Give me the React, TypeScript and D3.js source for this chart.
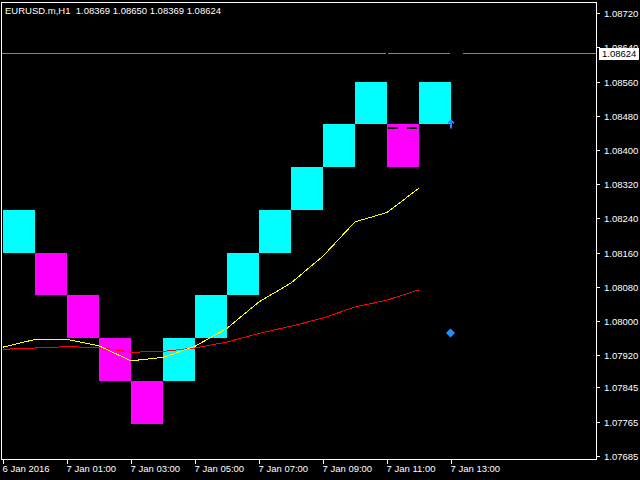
import React from "react";
import * as d3 from "d3";

const W = 640;
const H = 480;

const titleText = "EURUSD.m,H1  1.08369 1.08650 1.08369 1.08624";
const bidPrice = 1.08624;

// Renko bricks (hourly bars)
const brickOpen = [1.0816, 1.0816, 1.0806, 1.0796, 1.0786, 1.0786, 1.0796, 1.0806, 1.0816, 1.0826, 1.0836, 1.0846, 1.0846, 1.0846];
const brickClose = [1.0826, 1.0806, 1.0796, 1.0786, 1.0776, 1.0796, 1.0806, 1.0816, 1.0826, 1.0836, 1.0846, 1.0856, 1.0836, 1.0856];

// Moving averages
const maFast = [1.07939, 1.07957, 1.07957, 1.07942, 1.07907, 1.07915, 1.07941, 1.07983, 1.08045, 1.08089, 1.08152, 1.08232, 1.08254, 1.08311];
const maSlow = [1.07934, 1.07937, 1.0794, 1.07938, 1.07927, 1.07929, 1.07937, 1.07951, 1.07971, 1.07988, 1.08007, 1.08033, 1.08049, 1.08073];

// Signals
const arrowPrice = 1.0846;
const diamondPrice = 1.07972;
const signalBar = 14;

const yTickValues = [1.0872, 1.0864, 1.0856, 1.0848, 1.084, 1.0832, 1.0824, 1.0816, 1.0808, 1.08, 1.0792, 1.07845, 1.07765, 1.07685];
const yTickLabels = ["1.08720", "1.08640", "1.08560", "1.08480", "1.08400", "1.08320", "1.08240", "1.08160", "1.08080", "1.08000", "1.07920", "1.07845", "1.07765", "1.07685"];

const xTickHours = [0, 2, 4, 6, 8, 10, 12, 14];
const xTickLabels = ["6 Jan 2016", "7 Jan 01:00", "7 Jan 03:00", "7 Jan 05:00", "7 Jan 07:00", "7 Jan 09:00", "7 Jan 11:00", "7 Jan 13:00"];

const startTime = new Date(2016, 0, 6, 23, 0, 0);
const barTime = (i: number) => d3.timeHour.offset(startTime, i);

const FONT = "'Liberation Sans', Arial, sans-serif";
const FS = 9.5;

export default function App() {
  const x = d3.scaleTime().domain([barTime(0), barTime(14)]).range([3, 451]);
  const y = d3.scaleLinear().domain([1.07685, 1.0872]).range([455.7, 13.3]);

  const line = d3
    .line<number>()
    .x((_, i) => x(barTime(i)))
    .y((d) => y(d));

  const plotL = 1.5, plotR = 596.5, plotT = 2.5, plotB = 459.5;
  const bidY = Math.round(y(bidPrice)) - 0.5;
  const ax = x(barTime(signalBar));
  const ay = y(arrowPrice);
  const dy = y(diamondPrice);

  return (
    <div style={{ position: "fixed", left: 0, top: 0, width: W, height: H }}>
      <svg width={W} height={H} style={{ display: "block", background: "#000" }}>
        <rect x={0} y={0} width={W} height={H} fill="#000" />
        {/* bid line */}
        {[[plotL, 386], [388, 450], [463, plotR]].map(([a, b], i) => (
          <line key={i} x1={a} x2={b} y1={bidY} y2={bidY} stroke="#778899" strokeWidth={1} shapeRendering="crispEdges" />
        ))}
        {/* bricks */}
        {brickOpen.map((o, i) => {
          const c = brickClose[i];
          const x0 = Math.round(x(barTime(i)));
          const x1 = Math.round(x(barTime(i + 1)));
          const y0 = Math.round(y(Math.max(o, c)));
          const y1 = Math.round(y(Math.min(o, c)));
          return (
            <rect key={i} x={x0} y={y0} width={x1 - x0} height={y1 - y0} fill={c > o ? "#00FFFF" : "#FF00FF"} shapeRendering="crispEdges" />
          );
        })}
        {/* dashed black line in last down brick */}
        <line x1={388} x2={418} y1={Math.round(y(1.0846)) + 4} y2={Math.round(y(1.0846)) + 4} stroke="#000" strokeWidth={2} strokeDasharray="10,9" shapeRendering="crispEdges" />
        {/* MAs */}
        <path d={line(maSlow) || ""} fill="none" stroke="#FF0000" strokeWidth={1} shapeRendering="crispEdges" />
        <path d={line(maFast) || ""} fill="none" stroke="#FFFF00" strokeWidth={1} shapeRendering="crispEdges" />
        {/* arrow */}
        <g stroke="#1E90FF" strokeWidth={2} fill="none">
          <line x1={ax} x2={ax} y1={ay - 3.5} y2={ay + 4} />
          <polyline points={`${ax - 3},${ay - 1} ${ax},${ay - 4} ${ax + 3},${ay - 1}`} strokeWidth={1.6} />
        </g>
        {/* diamond */}
        <path d={`M${ax - 0.5},${dy - 4.5} L${ax + 4},${dy} L${ax - 0.5},${dy + 4.5} L${ax - 5},${dy} Z`} fill="#1E90FF" />
        {/* frame */}
        <rect x={plotL} y={plotT} width={plotR - plotL} height={plotB - plotT} fill="none" stroke="#fff" strokeWidth={1} shapeRendering="crispEdges" />
        {/* y axis */}
        {yTickValues.map((v, i) => {
          const ty = Math.round(y(v)) + 0.5;
          return (
            <g key={i}>
              <line x1={597} x2={600} y1={ty} y2={ty} stroke="#fff" shapeRendering="crispEdges" />
              <text x={604} y={ty + 3.5} fill="#fff" fontFamily={FONT} fontSize={FS}>
                {yTickLabels[i]}
              </text>
            </g>
          );
        })}
        {/* bid label */}
        <rect x={599} y={bidY - 5.5} width={40} height={12} fill="#fff" />
        <text x={602} y={bidY + 3.5} fill="#000" fontFamily={FONT} fontSize={FS}>
          {bidPrice.toFixed(5)}
        </text>
        {/* x axis */}
        {xTickHours.map((h, i) => {
          const tx = Math.round(x(barTime(h))) + 0.5;
          return (
            <g key={i}>
              <line x1={tx} x2={tx} y1={460} y2={464} stroke="#fff" shapeRendering="crispEdges" />
              <text x={tx - 1} y={472} fill="#fff" fontFamily={FONT} fontSize={FS}>
                {xTickLabels[i]}
              </text>
            </g>
          );
        })}
        {/* title */}
        <text x={5} y={14} fill="#fff" fontFamily={FONT} fontSize={FS} style={{ whiteSpace: "pre" }}>
          {titleText}
        </text>
      </svg>
    </div>
  );
}
